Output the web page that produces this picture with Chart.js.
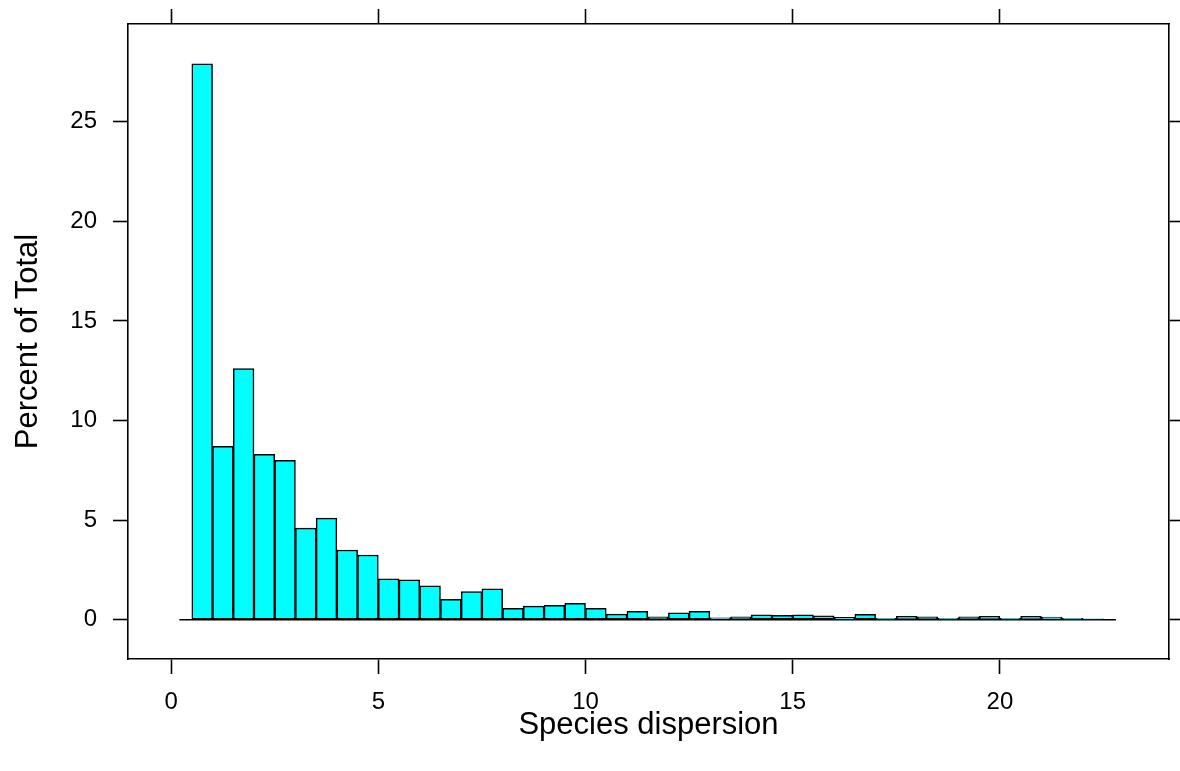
<!DOCTYPE html>
<html>
<head>
<meta charset="utf-8">
<title>Species dispersion</title>
<script src="https://cdn.jsdelivr.net/npm/chart.js@4.4.1/dist/chart.umd.min.js"></script>
<style>
  html, body { margin: 0; padding: 0; background: #fff; }
  canvas { display: block; }
</style>
</head>
<body>
<canvas id="histChart" width="1180" height="771"></canvas>
<script>
// histogram bins: midpoints (bin width 0.5) and percent of total per bin
const binMids = [
  0.75, 1.25, 1.75, 2.25, 2.75, 3.25, 3.75, 4.25, 4.75, 5.25, 5.75,
  6.25, 6.75, 7.25, 7.75, 8.25, 8.75, 9.25, 9.75, 10.25, 10.75, 11.25,
  11.75, 12.25, 12.75, 13.25, 13.75, 14.25, 14.75, 15.25, 15.75, 16.25,
  16.75, 17.25, 17.75, 18.25, 18.75, 19.25, 19.75, 20.25, 20.75, 21.25,
  21.75, 22.25
];
const percent = [
  27.9, 8.7, 12.6, 8.3, 8.0, 4.6, 5.1, 3.5, 3.25, 2.05, 2.0,
  1.7, 1.03, 1.42, 1.55, 0.57, 0.68, 0.72, 0.83, 0.57, 0.28, 0.42,
  0.15, 0.35, 0.42, 0.10, 0.15, 0.25, 0.22, 0.25, 0.2, 0.12,
  0.27, 0.07, 0.17, 0.15, 0.07, 0.15, 0.17, 0.07, 0.17, 0.13,
  0.07, 0.05
];
const xTicks = [0, 5, 10, 15, 20];
const yTicks = [0, 5, 10, 15, 20, 25];
const baselineX = [0.2, 22.8];

const fontFamily = "'Liberation Sans', Arial, Helvetica, sans-serif";
Chart.defaults.color = '#000';
Chart.defaults.font.family = fontFamily;

function fixedTicks(list) {
    return function(scale) {
        scale.ticks = list.map(v => ({ value: v }));
    };
}

// force the box size and drop the label overhang padding
function fixedSize(prop, size) {
    return function(scale) {
        scale[prop] = size;
        scale.paddingTop = 0;
        scale.paddingBottom = 0;
        scale.paddingLeft = 0;
        scale.paddingRight = 0;
    };
}

// shared look for the frame and its tick marks
function axisBase(position, min, max, list) {
    return {
        type: 'linear',
        position: position,
        min: min,
        max: max,
        offset: false,
        afterBuildTicks: fixedTicks(list),
        grid: {
            offset: false,
            drawOnChartArea: false,
            drawTicks: true,
            tickLength: 15,
            tickWidth: 1.6,
            tickColor: '#000'
        },
        border: { display: true, color: '#000', width: 1.6 },
        ticks: { display: false }
    };
}

const xMin = -1.04, xMax = 24.08;
const yMin = -1.97, yMax = 29.9;

const xAxis = axisBase('bottom', xMin, xMax, xTicks);
xAxis.ticks = {
    display: true,
    padding: 14,
    maxRotation: 0,
    font: { size: 24 },
    callback: v => String(v)
};
xAxis.title = {
    display: true,
    text: 'Species dispersion',
    font: { size: 31 },
    padding: { top: 0, bottom: 27 }
};
xAxis.afterFit = fixedSize('height', 112);

const yAxis = axisBase('left', yMin, yMax, yTicks);
yAxis.ticks = {
    display: true,
    padding: 16,
    font: { size: 24 },
    callback: v => String(v)
};
yAxis.title = {
    display: true,
    text: 'Percent of Total',
    font: { size: 31 },
    padding: { top: 10, bottom: 0 }
};
yAxis.afterFit = fixedSize('width', 128);

const xTop = axisBase('top', xMin, xMax, xTicks);
xTop.afterFit = fixedSize('height', 24);

const yRight = axisBase('right', yMin, yMax, yTicks);
yRight.afterFit = fixedSize('width', 11);

document.addEventListener('DOMContentLoaded', function() {
    const ctx = document.getElementById('histChart').getContext('2d');
    const histChart = new Chart(ctx, {
        type: 'bar',
        data: {
            datasets: [{
                type: 'bar',
                data: binMids.map((m, i) => ({ x: m, y: percent[i] })),
                backgroundColor: '#00FFFF',
                borderColor: '#000',
                borderWidth: 1.5,
                borderSkipped: false,
                barPercentage: 1,
                categoryPercentage: 1,
                xAxisID: 'x',
                yAxisID: 'y',
                order: 1
            }, {
                type: 'line',
                data: baselineX.map(v => ({ x: v, y: 0 })),
                borderColor: '#000',
                borderWidth: 1.5,
                pointRadius: 0,
                xAxisID: 'x',
                yAxisID: 'y',
                order: 2
            }]
        },
        options: {
            responsive: false,
            animation: false,
            devicePixelRatio: 1,
            layout: { padding: 0 },
            plugins: {
                legend: { display: false },
                tooltip: { enabled: false }
            },
            scales: {
                x: xAxis,
                y: yAxis,
                x2: xTop,
                y2: yRight
            }
        }
    });
});
</script>
</body>
</html>
